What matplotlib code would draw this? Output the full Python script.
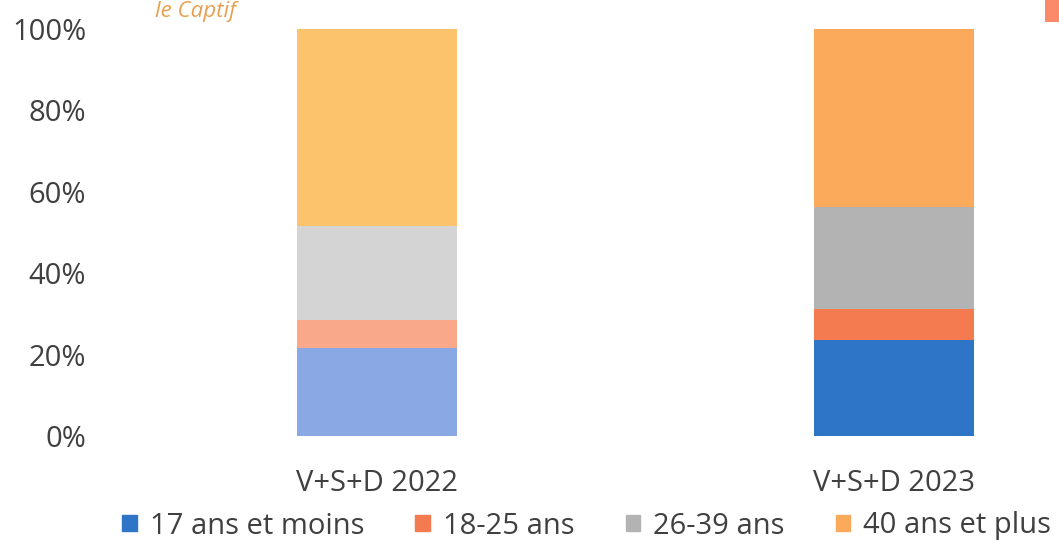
import matplotlib
matplotlib.use("Agg")
import matplotlib.pyplot as plt
from matplotlib.patches import Rectangle
import numpy as np

plt.rcParams['font.family'] = ['Open Sans', 'DejaVu Sans']

categories = ["V+S+D 2022", "V+S+D 2023"]
series_names = ["17 ans et moins", "18-25 ans", "26-39 ans", "40 ans et plus"]
s17 = [21.6, 23.6]
s18_25 = [6.9, 7.6]
s26_39 = [23.1, 25.1]
s40 = [48.4, 43.7]
yticks = [0, 20, 40, 60, 80, 100]
ytick_labels = ["0%", "20%", "40%", "60%", "80%", "100%"]

# colours: 2022 bars are lighter (faded) versions
colors_2023 = ["#2e75c8", "#f47a50", "#b3b3b3", "#fba95a"]
colors_2022 = ["#8aa9e4", "#f9a98a", "#d4d4d4", "#fcc26c"]

W, H = 1059, 542
fig = plt.figure(figsize=(W / 100, H / 100), dpi=100)
left_px, right_px = 100, 1059
bottom_px, top_px = 436, 29
ax = fig.add_axes([left_px / W, (H - bottom_px) / H,
                   (right_px - left_px) / W, (bottom_px - top_px) / H])

x = np.arange(len(categories))
data = [s17, s18_25, s26_39, s40]
bottoms = np.zeros(len(categories))
width = 0.311
for i, vals in enumerate(data):
    cols = [colors_2022[i], colors_2023[i]]
    ax.bar(x, vals, width, bottom=bottoms, color=cols, linewidth=0)
    bottoms += np.array(vals)

ax.set_xlim((left_px - 377) / 517, (right_px - 377) / 517)
ax.set_ylim(0, 100)
ax.set_yticks(yticks)
ax.set_yticklabels(ytick_labels, fontsize=21, color="#404040")
ax.set_xticks(x)
ax.set_xticklabels(categories, fontsize=21, color="#404040")
ax.tick_params(axis='y', length=0, pad=10)
ax.tick_params(axis='x', length=0, pad=24)
for sp in ax.spines.values():
    sp.set_visible(False)

# legend
handles = [Rectangle((0, 0), 1, 1, color=c) for c in colors_2023]
fig.legend(handles, series_names, loc="center", bbox_to_anchor=(0.554, 1 - 526 / H),
           ncol=4, frameon=False, fontsize=21, labelcolor="#404040",
           handlelength=0.5, handleheight=0.5, handletextpad=0.45, columnspacing=1.75,
           borderpad=0.1)

# handwritten annotation remnants from the scan
fig.text(155 / W, 1 - 12 / H, "le Captif", fontsize=16, color="#e8a050",
         va="center", ha="left", style="italic")
fig.add_artist(Rectangle((1045 / W, 1 - 22 / H), 14 / W, 22 / H,
                         transform=fig.transFigure, color="#fb8a6a", lw=0))

fig.savefig("out.png", dpi=100, facecolor="white")
